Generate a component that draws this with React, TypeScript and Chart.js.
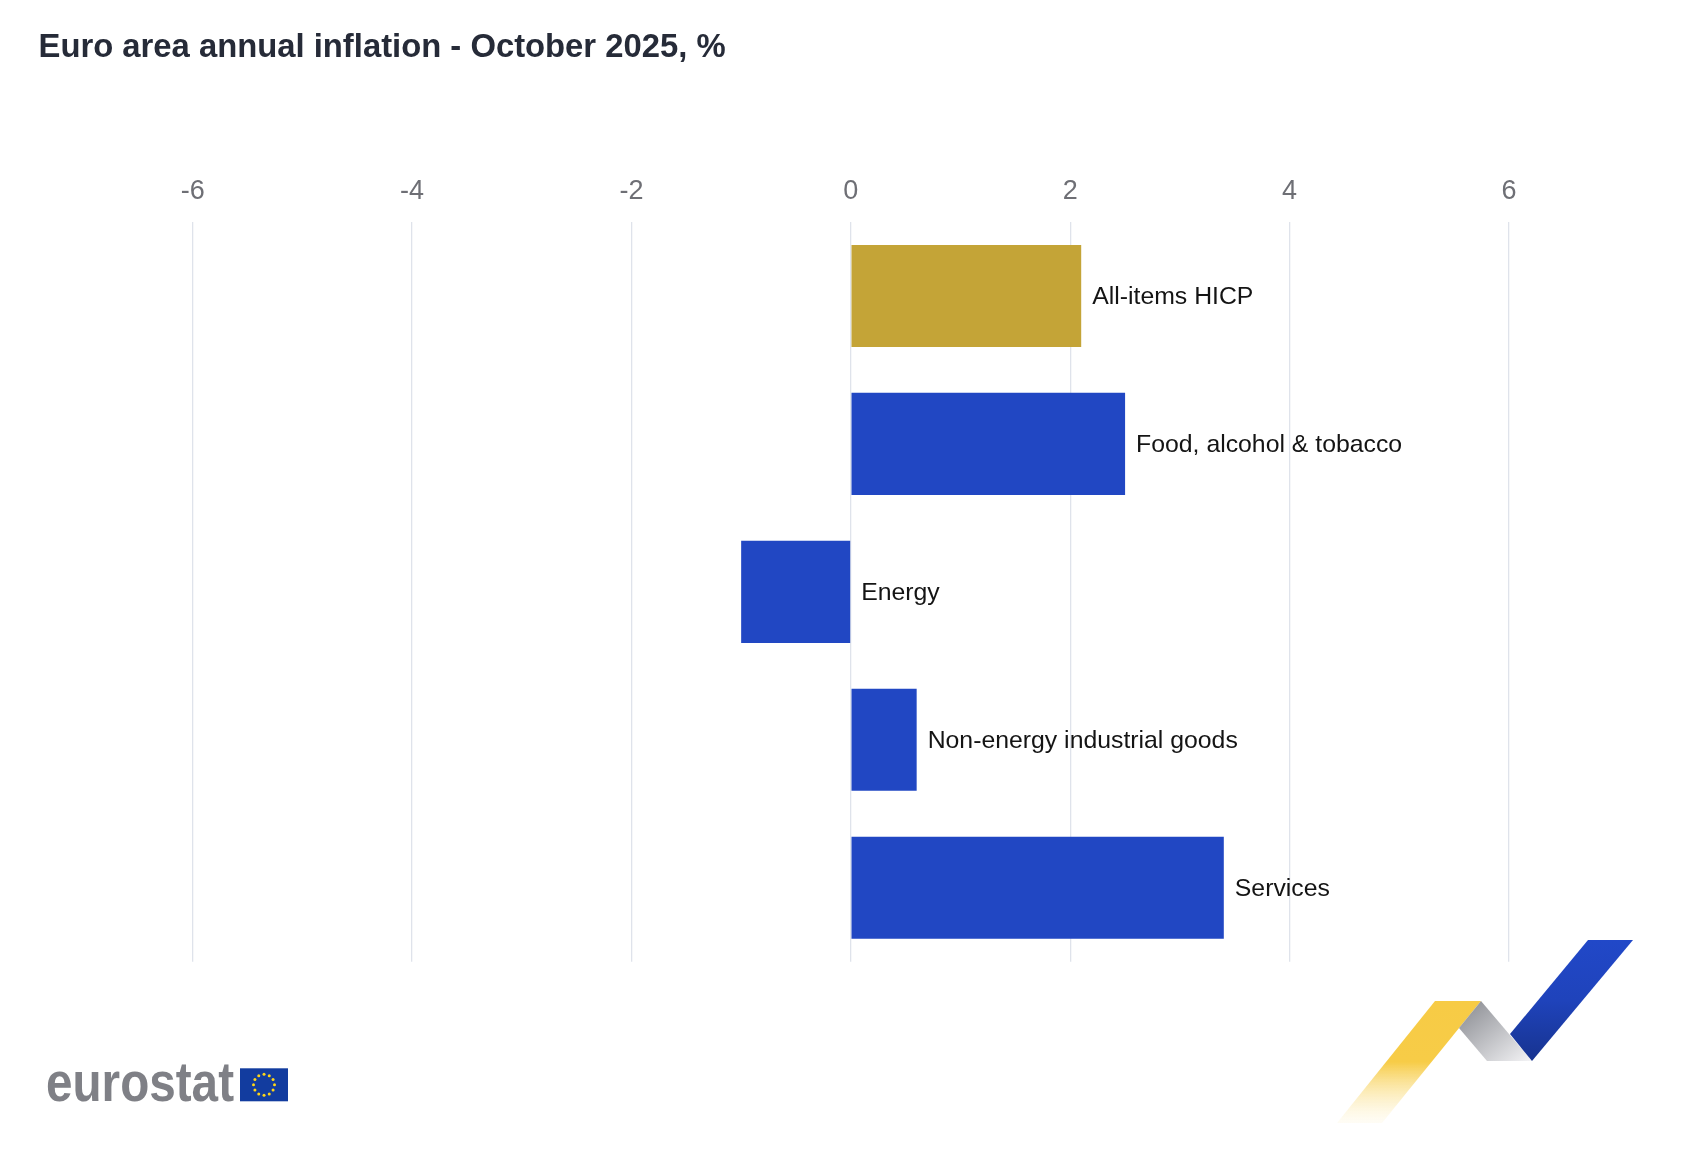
import React, { useEffect, useRef } from "react";
import { Chart, registerables } from "chart.js";

Chart.register(...registerables);

const categories = [
  "All-items HICP",
  "Food, alcohol & tobacco",
  "Energy",
  "Non-energy industrial goods",
  "Services",
];
const values = [2.1, 2.5, -1.0, 0.6, 3.4];
const barColors = ["#c4a437", "#2147c3", "#2147c3", "#2147c3", "#2147c3"];
const axisMin = -6;
const axisMax = 6;
const tickStep = 2;

const FONT = '"Liberation Sans", Arial, Helvetica, sans-serif';

const labelPlugin = {
  id: "barLabels",
  afterDatasetsDraw(chart: any) {
    const ctx = chart.ctx;
    const meta = chart.getDatasetMeta(0);
    ctx.save();
    ctx.font = `24.8px ${FONT}`;
    ctx.fillStyle = "#141414";
    ctx.textBaseline = "middle";
    ctx.textAlign = "left";
    meta.data.forEach((el: any, i: number) => {
      const p = el.getProps(["x", "y", "base"], true);
      ctx.fillText(categories[i], Math.max(p.x, p.base) + 11, p.y + 1.2);
    });
    ctx.restore();
  },
};

function Stars() {
  const cx = 264;
  const cy = 1084.8;
  const r = 10.5;
  const items = [];
  for (let k = 0; k < 12; k++) {
    const a = (k * Math.PI) / 6;
    items.push(
      <circle key={k} cx={cx + r * Math.sin(a)} cy={cy - r * Math.cos(a)} r={1.5} fill="#ffd617" />
    );
  }
  return <g>{items}</g>;
}

export default function App() {
  const ref = useRef<HTMLCanvasElement | null>(null);

  useEffect(() => {
    if (!ref.current) return;
    const chart = new Chart(ref.current, {
      type: "bar",
      data: {
        labels: categories,
        datasets: [
          {
            data: values,
            backgroundColor: barColors,
            borderWidth: 0,
            barPercentage: 0.69,
            categoryPercentage: 1,
          },
        ],
      },
      options: {
        indexAxis: "y",
        responsive: false,
        animation: false,
        devicePixelRatio: 1,
        layout: {
          padding: { top: 150, left: 192.7, right: 199, bottom: 190.3 },
        },
        plugins: {
          legend: { display: false },
          tooltip: { enabled: false },
          title: { display: false },
        },
        scales: {
          x: {
            type: "linear",
            position: "top",
            min: axisMin,
            max: axisMax,
            afterFit: (scale: any) => {
              scale.height = 72;
            },
            ticks: {
              stepSize: tickStep,
              padding: 14,
              color: "#6e6f75",
              font: { family: FONT, size: 27 },
            },
            grid: {
              color: "#dfe3eb",
              lineWidth: 1.3,
              drawTicks: false,
            },
            border: { display: false },
          },
          y: {
            type: "category",
            display: false,
            grid: { display: false },
          },
        },
      },
      plugins: [labelPlugin],
    } as any);
    return () => chart.destroy();
  }, []);

  return (
    <div
      style={{
        position: "fixed",
        left: 0,
        top: 0,
        width: 1708,
        height: 1152,
        background: "#ffffff",
        overflow: "hidden",
      }}
    >
      <canvas
        ref={ref}
        width={1708}
        height={1152}
        style={{ position: "absolute", left: 0, top: 0, width: 1708, height: 1152 }}
      />
      <svg
        width={1708}
        height={1152}
        style={{ position: "absolute", left: 0, top: 0, pointerEvents: "none" }}
      >
        <defs>
          <linearGradient id="gy" x1="0" y1="0" x2="0" y2="1">
            <stop offset="0" stopColor="#f7cb45" />
            <stop offset="0.5" stopColor="#f7cc47" />
            <stop offset="1" stopColor="#fdf3d0" stopOpacity="0.2" />
          </linearGradient>
          <linearGradient id="gg" x1="0" y1="0" x2="1" y2="1">
            <stop offset="0" stopColor="#86888e" />
            <stop offset="1" stopColor="#f4f4f6" />
          </linearGradient>
          <linearGradient id="gb" x1="0" y1="0" x2="0" y2="1">
            <stop offset="0" stopColor="#2148c8" />
            <stop offset="0.5" stopColor="#1f43bb" />
            <stop offset="1" stopColor="#17338f" />
          </linearGradient>
        </defs>
        <text
          x={38.5}
          y={56.5}
          fontFamily={FONT}
          fontSize={32.8}
          fontWeight="bold"
          fill="#262b38"
        >
          Euro area annual inflation - October 2025, %
        </text>
        <text
          x={46}
          y={1100.7}
          fontFamily={FONT}
          fontSize={55}
          fontWeight="bold"
          fill="#7f8086"
          textLength={188}
          lengthAdjust="spacingAndGlyphs"
        >
          eurostat
        </text>
        <rect x={240} y={1068.3} width={48} height={33} fill="#123c9f" />
        <Stars />
        <polygon points="1435,1001 1481,1001 1382,1123 1337,1123" fill="url(#gy)" />
        <polygon points="1481,1001 1532,1061 1487,1061 1459,1028" fill="url(#gg)" />
        <polygon points="1588,940 1633,940 1532,1061 1510,1034" fill="url(#gb)" />
      </svg>
    </div>
  );
}
